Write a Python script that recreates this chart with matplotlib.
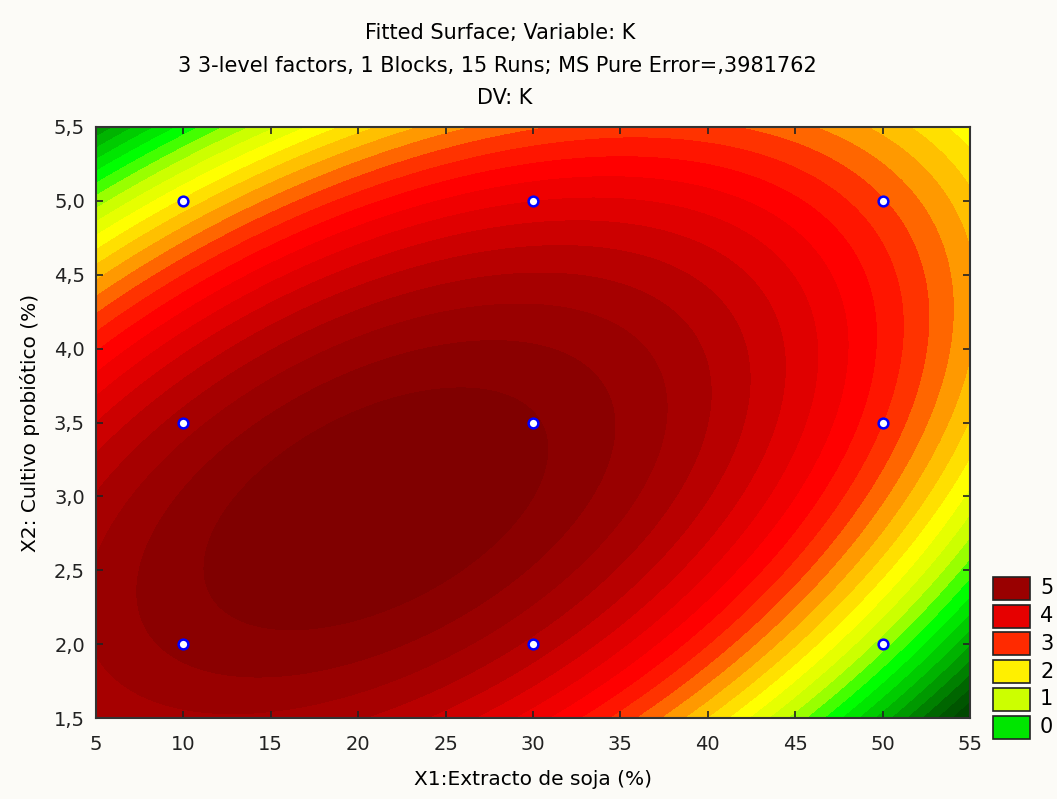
import numpy as np
import matplotlib
matplotlib.use("Agg")
import matplotlib.pyplot as plt
from matplotlib.colors import ListedColormap, BoundaryNorm
from matplotlib.patches import Rectangle

# Fitted second-order surface, coded units u=(X1-30)/20, v=(X2-3.5)/1.5
# terms: const, u, v, u^2, v^2, u*v
coef_names = ["b0", "b1", "b2", "b11", "b22", "b12"]
coef_values = [5.691, -0.872, -0.369, -1.577, -1.281, 1.40]

x1_range = [5, 55]
x2_range = [1.5, 5.5]

# design points (3^2 factorial, shown as markers)
design_x1 = [10, 30, 50, 10, 30, 50, 10, 30, 50]
design_x2 = [5.0, 5.0, 5.0, 3.5, 3.5, 3.5, 2.0, 2.0, 2.0]

legend_values = [5, 4, 3, 2, 1, 0]
legend_colors = ["#990000", "#e60000", "#ff2a00", "#fff000", "#ccff00", "#00e600"]

# contour bands: top level and spacing, band colours from lowest to highest
contour_top = 5.67
level_step = 0.27
band_colors = ["#003c00", "#004800", "#005500", "#006600", "#008000", "#009900",
               "#00b300", "#00cc00", "#00e600", "#00ff00", "#44ff00", "#99ff00",
               "#ccff00", "#e6ff00", "#ffff00", "#ffe000", "#ffc000", "#ff9900",
               "#ff6600", "#ff3300", "#ff1500", "#ff0000", "#f00000", "#e00000",
               "#cc0000", "#b80000", "#a60000", "#990000", "#8b0000", "#800000"]

plt.rcParams['font.family'] = ['DejaVu Sans']
fig = plt.figure(figsize=(10.57, 7.99), dpi=100, facecolor="#fcfbf7")
ax = fig.add_axes([96/1057, 1-718/799, (970-96)/1057, (718-127)/799])

b0, b1, b2, b11, b22, b12 = coef_values
gx = np.linspace(x1_range[0], x1_range[1], 500)
gy = np.linspace(x2_range[0], x2_range[1], 500)
X, Y = np.meshgrid(gx, gy)
U = (X - 30) / 20
V = (Y - 3.5) / 1.5
Z = b0 + b1*U + b2*V + b11*U*U + b22*V*V + b12*U*V

n_inner = len(band_colors) - 2
inner_levels = contour_top - level_step * np.arange(n_inner, -1, -1)
levels = np.concatenate([[-50.0], inner_levels, [50.0]])
bcmap = ListedColormap(band_colors)
norm = BoundaryNorm(levels, bcmap.N)
ax.contourf(X, Y, Z, levels=levels, cmap=bcmap, norm=norm, antialiased=False)

ax.plot(design_x1, design_x2, 'o', ms=7, mfc='white', mec='#0000ff', mew=1.8, ls='none')

ax.set_xlim(*x1_range)
ax.set_ylim(*x2_range)
ax.set_xticks(np.arange(5, 56, 5))
yt = np.arange(1.5, 5.51, 0.5)
ax.set_yticks(yt)
ax.set_yticklabels([f"{t:.1f}".replace('.', ',') for t in yt])
ax.tick_params(axis='both', direction='in', length=5, width=1.2, top=True, right=True,
               labelsize=14, colors='#222222')
ax.tick_params(axis='x', pad=12)
ax.tick_params(axis='y', pad=8)
for s in ax.spines.values():
    s.set_linewidth(1.5)
    s.set_color('#333333')
ax.set_xlabel("X1:Extracto de soja (%)", fontsize=14.5, labelpad=12)
ax.set_ylabel("X2: Cultivo probiótico (%)", fontsize=14.5, labelpad=10)

fig.text(500/1057, 1-33/799, "Fitted Surface; Variable: K", ha='center', va='center', fontsize=15)
fig.text(497/1057, 1-66/799, "3 3-level factors, 1 Blocks, 15 Runs; MS Pure Error=,3981762",
         ha='center', va='center', fontsize=15)
fig.text(505/1057, 1-98/799, "DV: K", ha='center', va='center', fontsize=15)

for i, (val, col) in enumerate(zip(legend_values, legend_colors)):
    ytop = 577 + i*27.7
    fig.patches.append(Rectangle((993/1057, 1-(ytop+23)/799), 37/1057, 23/799,
                                 transform=fig.transFigure, facecolor=col,
                                 edgecolor='#222222', lw=1.2))
    fig.text(1040/1057, 1-(ytop+11.5)/799, str(val), ha='left', va='center', fontsize=15)

fig.savefig("out.png", dpi=100, facecolor=fig.get_facecolor())
